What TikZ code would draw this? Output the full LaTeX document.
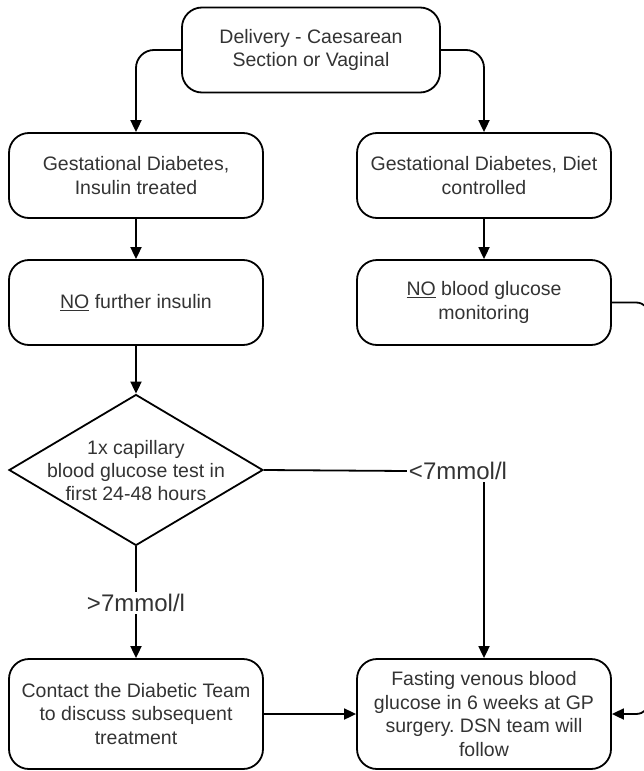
\documentclass[tikz,border=0pt]{standalone}
\usepackage{fontspec}
\setmainfont{Liberation Sans}
\usetikzlibrary{arrows.meta,shapes.geometric}
\definecolor{txt}{HTML}{333333}
\frenchspacing
\begin{document}
\begin{tikzpicture}[x=1pt,y=-1pt,
  box/.style={draw=black, line width=1.8pt, rounded corners=20pt, minimum width=254pt, minimum height=85pt, align=center, text=txt, font=\fontsize{19.5}{23.5}\selectfont, inner sep=2pt},
  lbl/.style={text=txt, font=\fontsize{24}{26}\selectfont, inner sep=2pt},
  conn/.style={draw=black, line width=1.8pt},
  arr/.style={conn, -{Triangle[length=12pt,width=11pt]}}]
\useasboundingbox (0,0) rectangle (644,771);
\node[box, minimum width=258pt] (top) at (311,50) {Delivery - Caesarean\\Section or Vaginal};
\node[box] (gi) at (136,175.5) {Gestational Diabetes,\\Insulin treated};
\node[box] (gd) at (484,175.5) {Gestational Diabetes, Diet\\controlled};
\node[box] (ni) at (136,302.5) {\underline{NO} further insulin};
\node[box] (nb) at (484,302.5) {\underline{NO} blood glucose\\monitoring};
\node[diamond, draw=black, line width=1.8pt, minimum width=254pt, minimum height=151pt, inner sep=0pt] (dia) at (136,470) {};
\node[align=center, text=txt, font=\fontsize{19.5}{23}\selectfont] (diatext) at (136,471) {1x capillary\\blood glucose test in\\first 24-48 hours};
\node[lbl] (gt) at (136,603) {>7mmol/l};
\node[lbl] (lt) at (458,471) {<7mmol/l};
\node[box, minimum height=110pt] (ct) at (136,714) {Contact the Diabetic Team\\to discuss subsequent\\treatment};
\node[box, minimum height=110pt] (fv) at (484,714) {Fasting venous blood\\glucose in 6 weeks at GP\\surgery. DSN team will\\follow};
\coordinate (rc) at (650,0);
\draw[arr, rounded corners=18pt] (top.west) -| (gi.north);
\draw[arr, rounded corners=18pt] (top.east) -| (gd.north);
\draw[arr] (gi.south) -- (ni.north);
\draw[arr] (gd.south) -- (nb.north);
\draw[arr] (ni.south) -- (dia.north);
\draw[conn] (dia.south) -- (gt.north);
\draw[arr] (gt.south) -- (ct.north);
\draw[conn] (dia.east) -- (lt.west);
\draw[arr] (lt.south -| fv.north) -- (fv.north);
\draw[arr] (ct.east) -- (fv.west);
\draw[arr, rounded corners=14pt] (nb.east) -- (nb.east -| rc) -- (fv.east -| rc) -- (fv.east);
\end{tikzpicture}
\end{document}
